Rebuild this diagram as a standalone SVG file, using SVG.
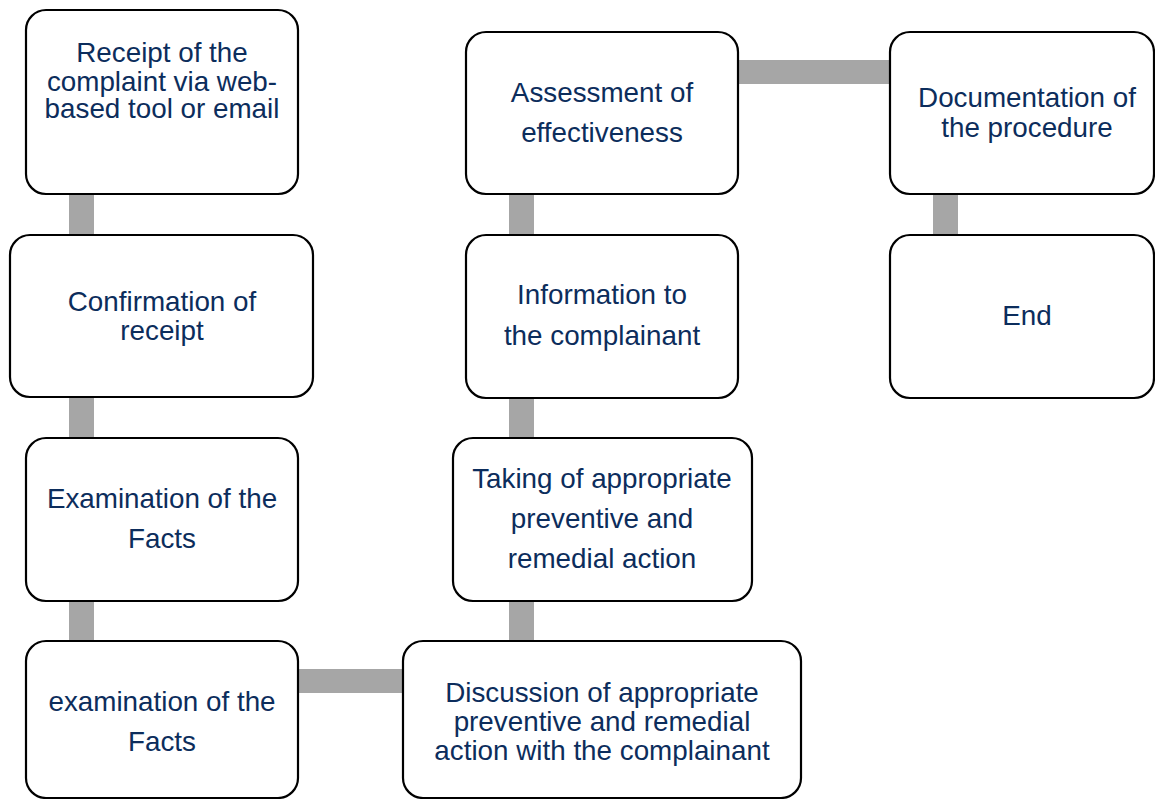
<svg xmlns="http://www.w3.org/2000/svg" width="1155" height="799" viewBox="0 0 1155 799">
  <style>
    .box { fill: #ffffff; stroke: #000000; stroke-width: 2.2; }
    .link { fill: #a6a6a6; }
    .label { font-family: "Liberation Sans", Arial, sans-serif; font-size: 27.8px; fill: #0c2d5c; text-anchor: middle; }
  </style>
  <rect width="1155" height="799" fill="#ffffff"/>

  <!-- connectors (thick grey bars drawn behind the boxes) -->
  <g id="connectors">
    <rect class="link" x="69" y="190" width="25" height="50"/>
    <rect class="link" x="69" y="393" width="25" height="50"/>
    <rect class="link" x="69" y="596" width="25" height="50"/>
    <rect class="link" x="294" y="669" width="114" height="24"/>
    <rect class="link" x="509" y="596" width="25" height="50"/>
    <rect class="link" x="509" y="393" width="25" height="50"/>
    <rect class="link" x="509" y="190" width="25" height="50"/>
    <rect class="link" x="734" y="60" width="160" height="24"/>
    <rect class="link" x="933" y="190" width="25" height="50"/>
  </g>

  <g id="receipt">
    <rect class="box" x="26" y="10" width="272" height="184" rx="20"/>
    <text class="label" x="162" y="62">Receipt of the</text>
    <text class="label" x="162" y="90.5">complaint via web-</text>
    <text class="label" x="162" y="118">based tool or email</text>
  </g>

  <g id="confirmation">
    <rect class="box" x="10" y="235" width="303" height="162" rx="20"/>
    <text class="label" x="162" y="311">Confirmation of</text>
    <text class="label" x="162" y="340">receipt</text>
  </g>

  <g id="examination">
    <rect class="box" x="26" y="438" width="272" height="163" rx="20"/>
    <text class="label" x="162" y="508">Examination of the</text>
    <text class="label" x="162" y="548">Facts</text>
  </g>

  <g id="examination-2">
    <rect class="box" x="26" y="641" width="272" height="157" rx="20"/>
    <text class="label" x="162" y="711">examination of the</text>
    <text class="label" x="162" y="751">Facts</text>
  </g>

  <g id="discussion">
    <rect class="box" x="403" y="641" width="398" height="157" rx="20"/>
    <text class="label" x="602" y="701.5">Discussion of appropriate</text>
    <text class="label" x="602" y="730.5">preventive and remedial</text>
    <text class="label" x="602" y="760">action with the complainant</text>
  </g>

  <g id="action">
    <rect class="box" x="453" y="438" width="299" height="163" rx="20"/>
    <text class="label" x="602" y="488">Taking of appropriate</text>
    <text class="label" x="602" y="528">preventive and</text>
    <text class="label" x="602" y="568">remedial action</text>
  </g>

  <g id="information">
    <rect class="box" x="466" y="235" width="272" height="163" rx="20"/>
    <text class="label" x="602" y="304">Information to</text>
    <text class="label" x="602" y="345">the complainant</text>
  </g>

  <g id="assessment">
    <rect class="box" x="466" y="32" width="272" height="162" rx="20"/>
    <text class="label" x="602" y="102">Assessment of</text>
    <text class="label" x="602" y="142">effectiveness</text>
  </g>

  <g id="documentation">
    <rect class="box" x="890" y="32" width="264" height="162" rx="20"/>
    <text class="label" x="1027" y="107">Documentation of</text>
    <text class="label" x="1027" y="136.5">the procedure</text>
  </g>

  <g id="end">
    <rect class="box" x="890" y="235" width="264" height="163" rx="20"/>
    <text class="label" x="1027" y="325">End</text>
  </g>
</svg>
